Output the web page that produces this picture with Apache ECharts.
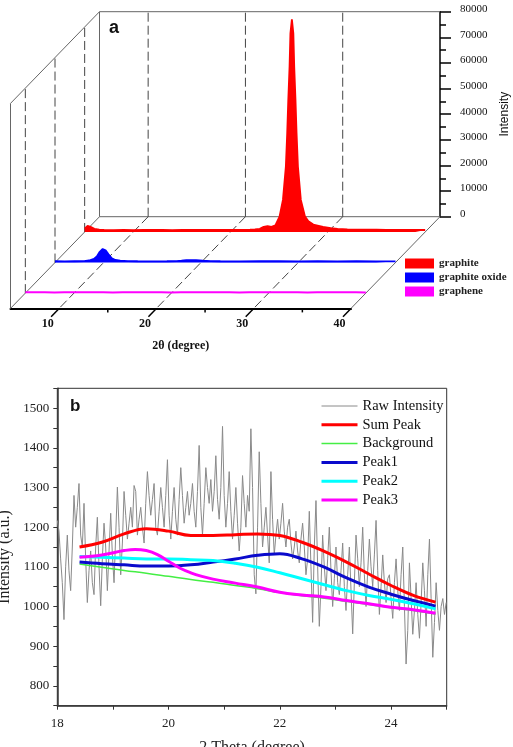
<!DOCTYPE html>
<html><head><meta charset="utf-8">
<script src="https://cdn.jsdelivr.net/npm/echarts@6/dist/echarts.min.js"></script>
<style>html,body{margin:0;padding:0;background:#fff}#c{width:513px;height:747px}</style>
</head><body><div id="c"></div>
<script>
// ---------- Panel a data ----------
const graphiteX = [5, 5.3, 5.6, 6.0, 6.5, 7, 8, 9, 10, 11, 12, 13, 14, 15, 16, 17, 18, 19, 20, 21, 22, 22.5, 23.0, 23.4, 23.8, 24.2, 24.6, 25.03, 25.38, 25.68, 25.82, 25.93, 26.06, 26.15, 26.3, 26.45, 26.54, 26.67, 26.78, 26.92, 27.22, 27.65, 28.0, 28.5, 29.5, 30.3, 31, 32, 33, 34, 35, 36, 37, 38, 39, 40];
const graphiteY = [1300, 2400, 2000, 1200, 900, 800, 750, 800, 750, 800, 780, 820, 760, 800, 780, 800, 820, 800, 850, 820, 900, 1000, 1200, 2000, 2300, 2000, 2600, 6000, 12500, 25500, 38600, 51500, 64500, 77500, 83000, 77500, 64500, 51500, 38600, 25500, 12500, 6000, 4200, 2900, 2000, 1500, 1200, 1000, 950, 900, 880, 850, 820, 800, 800, 780];
const oxideX = [5, 6, 7, 8, 8.5, 9.0, 9.3, 9.6, 9.9, 10.2, 10.5, 10.8, 11.2, 11.7, 12.5, 13.5, 15, 16.5, 17.5, 18, 18.5, 19.5, 20.2, 21, 22, 24, 26, 28, 30, 32, 34, 36, 38, 40];
const oxideY = [500, 450, 500, 550, 800, 1400, 2400, 4200, 5300, 4800, 3200, 1800, 1000, 700, 550, 500, 480, 500, 550, 700, 900, 900, 700, 550, 500, 480, 520, 500, 480, 500, 470, 500, 480, 450];
const grapheneX = [5, 6, 7, 8, 9, 10, 11, 12, 13, 14, 15, 16, 17, 18, 19, 20, 21, 22, 23, 24, 25, 26, 27, 28, 29, 30, 31, 32, 33, 34, 35, 36, 37, 38, 39, 40];
const grapheneY = [350, 300, 320, 280, 310, 330, 290, 300, 350, 280, 300, 320, 290, 310, 300, 280, 330, 300, 290, 310, 300, 320, 280, 300, 310, 290, 300, 320, 300, 280, 310, 300, 290, 330, 300, 280];
const aNames = ['graphite', 'graphite oxide', 'graphene'];
const aColors = ['#ff0000', '#0000ff', '#ff00ff'];
const aXTicks = [10, 20, 30];

// ---------- Panel b data ----------
const fitX = [18.4, 18.8, 19.2, 19.6, 20.0, 20.4, 20.8, 21.2, 21.6, 22.0, 22.4, 22.8, 23.2, 23.6, 24.0, 24.4, 24.8];
const sumPeak    = [1150, 1162, 1183, 1196, 1190, 1179, 1179, 1181, 1183, 1179, 1162, 1139, 1112, 1082, 1053, 1028, 1011];
const background = [1107, 1099, 1091, 1084, 1076, 1068, 1061, 1053, 1045, 1035, 1027, 1021, 1013, 1005, 997, 990, 981];
const peak1      = [1112, 1108, 1105, 1102, 1102, 1105, 1112, 1120, 1129, 1133, 1120, 1099, 1072, 1049, 1031, 1015, 1001];
const peak2      = [1126, 1124, 1122, 1120, 1120, 1118, 1116, 1109, 1099, 1085, 1070, 1055, 1040, 1028, 1018, 1007, 994];
const peak3X     = [18.4, 18.8, 19.2, 19.4, 19.6, 19.8, 20.0, 20.2, 20.4, 20.6, 20.8, 21.2, 21.6, 22.0, 22.4, 22.8, 23.2, 23.6, 24.0, 24.4, 24.8];
const peak3      = [1124, 1130, 1141, 1144, 1141, 1131, 1114, 1097, 1085, 1076, 1069, 1059, 1049, 1036, 1029, 1024, 1015, 1007, 998, 992, 983];
const rawStart = 18.0, rawStep = 0.03;
const rawIntensity = [
 1217, 1190, 1120, 1060, 967, 1100, 1180, 1090, 1040, 1150,
 1280, 1200, 1250, 1310, 1180, 1150, 1260, 1120, 1010, 1090,
 1140, 1060, 1030, 1150, 1225, 1100, 1002, 1120, 1210, 1150,
 1040, 1140, 1235, 1130, 1060, 1180, 1301, 1200, 1080, 1160,
 1290, 1230, 1170, 1210, 1250, 1200, 1305, 1290, 1180, 1220,
 1250, 1200, 1160, 1260, 1340, 1280, 1230, 1270, 1310, 1200,
 1180, 1240, 1300, 1250, 1200, 1280, 1370, 1230, 1170, 1240,
 1300, 1220, 1180, 1270, 1350, 1280, 1210, 1250, 1290, 1230,
 1260, 1310, 1240, 1200, 1290, 1406, 1250, 1180, 1260, 1350,
 1300, 1260, 1320, 1240, 1290, 1380, 1270, 1220, 1300, 1454,
 1280, 1200, 1260, 1340, 1240, 1170, 1230, 1300, 1210, 1140,
 1200, 1330, 1260, 1200, 1280, 1240, 1448, 1300, 1080, 1032,
 1200, 1390, 1260, 1150, 1200, 1250, 1180, 1110, 1340, 1220,
 1130, 1180, 1220, 1170, 1210, 1260, 1190, 1150, 1200, 1220,
 1160, 1120, 1150, 1190, 1140, 1110, 1170, 1210, 1150, 1080,
 1120, 1240, 1100, 960, 1150, 1267, 1100, 950, 1050, 1180,
 1100, 1040, 1120, 1200, 1090, 1000, 1070, 1150, 1060, 1030,
 1090, 1160, 1050, 990, 1080, 1150, 1040, 931, 1060, 1180,
 1120, 1050, 1110, 1200, 1080, 1000, 1090, 1170, 1100, 1050,
 1130, 1217, 1090, 980, 1050, 1130, 1060, 1010, 1070, 1080,
 1020, 970, 1060, 1120, 1040, 990, 1080, 1150, 1000, 855,
 940, 1110, 1020, 930, 990, 1060, 980, 920, 1010, 1110,
 1040, 950, 1080, 1170, 1020, 872, 960, 1060, 990, 940,
 1000, 1020, 980, 1010
];
const bNames = ['Raw Intensity', 'Sum Peak', 'Background', 'Peak1', 'Peak2', 'Peak3'];
const bColors = ['#8a8a8a', '#ff0000', '#44ee44', '#0a0acc', '#00ffff', '#ff00ff'];
const bWidths = [1, 3, 1.5, 3, 3, 3];

// ---------- layout ----------
const SERIF = 'Liberation Serif';
const SANS = 'Liberation Sans';
const BACK = {left: 99.5, top: 11.7, width: 340.5, height: 205};
const DX = -89, DY = 91.7;
const depths = [1/6, 3/6, 5/6];
function gridAt(f) {
  return {left: BACK.left + DX * f, top: BACK.top + DY * f, width: BACK.width, height: BACK.height, outerBoundsMode: 'none', containLabel: false};
}
const pair = (xs, ys) => xs.map((x, i) => [x, ys[i]]);

const grids = [gridAt(0), gridAt(depths[0]), gridAt(depths[1]), gridAt(depths[2]), gridAt(1),
  {left: 57.3, top: 388.3, width: 389.4, height: 317.4, show: true, borderColor: '#333', borderWidth: 1, outerBoundsMode: 'none', containLabel: false}];

const xAxes = [], yAxes = [];
for (let i = 0; i < 5; i++) {
  xAxes.push({gridIndex: i, type: 'value', min: 5, max: 40, show: false});
  yAxes.push({gridIndex: i, type: 'value', min: 0, max: 80000, show: false});
}
// front x axis
xAxes[4] = {
  gridIndex: 4, type: 'value', min: 5, max: 40, interval: 5, show: true,
  axisLine: {show: true, lineStyle: {color: '#000', width: 2}},
  axisTick: {show: false}, splitLine: {show: false},
  axisLabel: {formatter: v => (v % 10 === 0 ? String(v) : ''), margin: 10, padding: [0, 23, 0, 0],
    fontFamily: SERIF, fontWeight: 'bold', fontSize: 12, color: '#111'},
  name: '2\u03b8 (degree)', nameLocation: 'middle', nameGap: 32,
  nameTextStyle: {fontFamily: SERIF, fontWeight: 'bold', fontSize: 12, color: '#111'}
};
// intensity axis on back wall
yAxes[0] = {
  gridIndex: 0, type: 'value', min: 0, max: 80000, interval: 10000, position: 'right', show: true,
  axisLine: {show: true, lineStyle: {color: '#000', width: 1.5}},
  axisTick: {show: true, length: 11, lineStyle: {color: '#000', width: 1.5}},
  minorTick: {show: true, splitNumber: 2, length: 6, lineStyle: {color: '#000', width: 1.5}},
  splitLine: {show: false},
  axisLabel: {formatter: v => String(v), margin: 20, verticalAlign: 'bottom', padding: [0, 0, -3, 0],
    fontFamily: SERIF, fontSize: 11, color: '#111'},
  name: 'Intensity', nameLocation: 'middle', nameGap: 57,
  nameTextStyle: {fontFamily: SANS, fontSize: 12, color: '#111'}
};
// panel b axes
xAxes.push({
  gridIndex: 5, type: 'value', min: 18, max: 25, interval: 1,
  axisLine: {show: true, lineStyle: {color: '#333', width: 1.5}},
  axisTick: {show: true, length: 4, lineStyle: {color: '#333'}},
  splitLine: {show: false},
  axisLabel: {formatter: v => (v % 2 === 0 ? String(v) : ''), margin: 11, fontFamily: SERIF, fontSize: 13, color: '#222'},
  name: '2 Theta (degree)', nameLocation: 'middle', nameGap: 34,
  nameTextStyle: {fontFamily: SERIF, fontSize: 16, color: '#222'}
});
yAxes.push({
  gridIndex: 5, type: 'value', min: 750, max: 1550, interval: 50,
  axisLine: {show: true, lineStyle: {color: '#333', width: 1.5}},
  axisTick: {show: true, length: 4, lineStyle: {color: '#333'}},
  splitLine: {show: false},
  axisLabel: {formatter: v => (v % 100 === 0 ? String(v) : ''), margin: 8, fontFamily: SERIF, fontSize: 13, color: '#222'},
  name: 'Intensity (a.u.)', nameLocation: 'middle', nameGap: 32,
  nameTextStyle: {fontFamily: SERIF, fontSize: 16, color: '#222', padding: [0, 20, 0, 0]}
});

const frameSeries = {
  type: 'custom', name: 'frame', xAxisIndex: 0, yAxisIndex: 0, data: [[5, 0]],
  silent: true, clip: false, z: 1,
  renderItem: function (params, api) {
    const c = (x, y, f) => { const p = api.coord([x, y]); f = f || 0; return [p[0] + DX * f, p[1] + DY * f]; };
    const solid = {stroke: '#666', lineWidth: 1, fill: null};
    const dashed = {stroke: '#444', lineWidth: 1, lineDash: [9, 4], fill: null};
    const black = {stroke: '#000', lineWidth: 1.5, fill: null};
    const L = (a, b, style) => ({type: 'line', shape: {x1: a[0], y1: a[1], x2: b[0], y2: b[1]}, style: style});
    const xmin = 5, xmax = 40, ymax = 80000;
    const ch = [];
    ch.push({type: 'polyline', shape: {points: [c(xmin, 0), c(xmin, ymax), c(xmax, ymax)]}, style: solid});
    ch.push(L(c(xmin, 0), c(xmax, 0), solid));
    ch.push(L(c(xmin, 0, 1), c(xmin, ymax, 1), solid));
    ch.push(L(c(xmin, ymax, 1), c(xmin, ymax, 0), solid));
    ch.push(L(c(xmin, 0, 0), c(xmin, 0, 1), solid));
    ch.push(L(c(xmax, 0, 0), c(xmax, 0, 1), solid));
    aXTicks.forEach(x => {
      ch.push(L(c(x, 0), c(x, ymax), dashed));
      ch.push(L(c(x, 0), c(x, 0, 1), dashed));
    });
    depths.forEach(f => ch.push(L(c(xmin, 0, f), c(xmin, ymax, f), dashed)));
    [10, 20, 30, 40].forEach(x => ch.push(L(c(x, 0, 1), c(x, 0, 1.09), black)));
    [15, 25, 35].forEach(x => { const p = c(x, 0, 1); ch.push(L(p, [p[0], p[1] + 4], black)); });
    return {type: 'group', children: ch};
  }
};

const series = [frameSeries];
const aData = [pair(graphiteX, graphiteY), pair(oxideX, oxideY), pair(grapheneX, grapheneY)];
aData.forEach((d, i) => {
  series.push({
    type: 'line', name: aNames[i], xAxisIndex: i + 1, yAxisIndex: i + 1, data: d,
    symbol: 'none', clip: false, z: 3 + i, color: aColors[i],
    itemStyle: {color: aColors[i]},
    lineStyle: {color: aColors[i], width: i === 2 ? 2 : 1.8},
    areaStyle: i < 2 ? {color: aColors[i], opacity: 1} : undefined
  });
});
const rawData = rawIntensity.map((v, i) => [rawStart + rawStep * i, v]);
const fitData = [pair(fitX, sumPeak), pair(fitX, background), pair(fitX, peak1), pair(fitX, peak2), pair(peak3X, peak3)];
series.push({
  type: 'line', name: bNames[0], xAxisIndex: 5, yAxisIndex: 5, data: rawData, symbol: 'none',
  color: bColors[0], lineStyle: {color: bColors[0], width: bWidths[0]}, z: 2
});
const order = [1, 4, 3, 2, 0]; // background, peak3, peak2, peak1, sum
order.forEach(k => {
  series.push({
    type: 'line', name: bNames[k + 1], xAxisIndex: 5, yAxisIndex: 5, data: fitData[k],
    symbol: 'none', smooth: 0.4, color: bColors[k + 1],
    lineStyle: {color: bColors[k + 1], width: bWidths[k + 1]}, z: 3 + (k === 0 ? 5 : k)
  });
});

const hidden = {color: 'rgba(0,0,0,0)', borderWidth: 0, opacity: 0};
const option = {
  animation: false,
  backgroundColor: '#fff',
  title: [
    {text: 'a', left: 109, top: 19, padding: 0, textStyle: {fontFamily: SANS, fontWeight: 'bold', fontSize: 18, color: '#111'}},
    {text: 'b', left: 70, top: 398, padding: 0, textStyle: {fontFamily: SANS, fontWeight: 'bold', fontSize: 17, color: '#111'}}
  ],
  legend: [
    {data: aNames, orient: 'vertical', left: 405, top: 258, padding: 0, itemWidth: 29, itemHeight: 10, itemGap: 3,
     icon: 'rect', selectedMode: false,
     textStyle: {fontFamily: SERIF, fontWeight: 'bold', fontSize: 11, color: '#222'}},
    {data: bNames.map((n, i) => ({name: n, itemStyle: hidden, lineStyle: {width: bWidths[i], color: bColors[i]}})),
     orient: 'vertical', left: 320, top: 398.5, padding: 0, itemWidth: 36, itemHeight: 14, itemGap: 3.8,
     selectedMode: false,
     textStyle: {fontFamily: SERIF, fontSize: 14.5, color: '#111'}}
  ],
  grid: grids,
  xAxis: xAxes,
  yAxis: yAxes,
  series: series
};
const chart = echarts.init(document.getElementById('c'));
chart.setOption(option);
</script>
</body></html>
